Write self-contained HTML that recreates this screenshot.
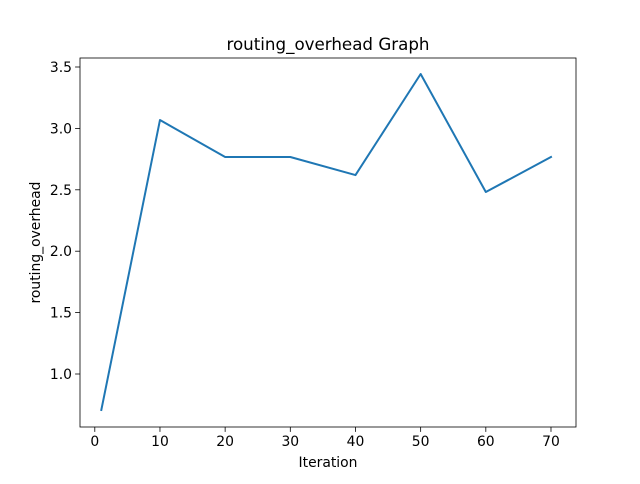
<!DOCTYPE html>
<html><head><meta charset="utf-8"><style>
body{margin:0;background:#fff;font-family:"DejaVu Sans","Liberation Sans",sans-serif;}
text{font-family:"DejaVu Sans","Liberation Sans",sans-serif;}
</style></head><body>
<svg id="chart" width="640" height="480" xmlns="http://www.w3.org/2000/svg">
<rect width="640" height="480" fill="#fff"/>
<g id="axes"></g>
</svg>
<script>
const xValues = [1, 10, 20, 30, 40, 50, 60, 70];
const yValues = [0.707, 3.068, 2.767, 2.767, 2.62, 3.443, 2.482, 2.767];
const xTicks = [0, 10, 20, 30, 40, 50, 60, 70];
const yTicks = [1.0, 1.5, 2.0, 2.5, 3.0, 3.5];

const L=80, R=576, T=58, B=427;
function xs(v){ return 94.8 + v*6.517; }
function ys(v){ return 374 - (v-1)*122.8; }
const NS="http://www.w3.org/2000/svg";
const g=document.getElementById('axes');
function mk(tag, attrs, parent){ const e=document.createElementNS(NS,tag); for(const k in attrs) e.setAttribute(k,attrs[k]); (parent||g).appendChild(e); return e; }

const frame=mk('rect',{x:L,y:T,width:R-L,height:B-T,fill:'none',stroke:'#000','stroke-width':0.8});



xTicks.forEach(t=>{
  const x=xs(t);
  const tk=mk('line',{x1:x,x2:x,y1:B,y2:B+4.9,stroke:'#000','stroke-width':0.8});
  
  
  const lb=mk('text',{x:x,y:B+19,'text-anchor':'middle','font-size':13.9,fill:'#000'});
  lb.textContent=t;
  
  
});
yTicks.forEach(t=>{
  const y=ys(t);
  const tk=mk('line',{x1:L-4.9,x2:L,y1:y,y2:y,stroke:'#000','stroke-width':0.8});
  
  
  const lb=mk('text',{x:L-8,y:y+5,'text-anchor':'end','font-size':13.9,fill:'#000'});
  lb.textContent=t.toFixed(1);
  
  
});

const pts=xValues.map((v,i)=>xs(v)+','+ys(yValues[i])).join(' ');
const line=mk('polyline',{points:pts,fill:'none',stroke:'#1f77b4','stroke-width':2,'stroke-linejoin':'round','stroke-linecap':'square'});



const title=mk('text',{x:(L+R)/2,y:50,'text-anchor':'middle','font-size':16.7,fill:'#000'});
title.textContent='routing_overhead Graph';



const xl=mk('text',{x:(L+R)/2,y:467,'text-anchor':'middle','font-size':13.9,fill:'#000'});
xl.textContent='Iteration';



const yl=mk('text',{x:0,y:0,'text-anchor':'middle','font-size':13.9,fill:'#000',transform:'translate(40,'+((T+B)/2)+') rotate(-90)'});
yl.textContent='routing_overhead';


</script>
</body></html>
